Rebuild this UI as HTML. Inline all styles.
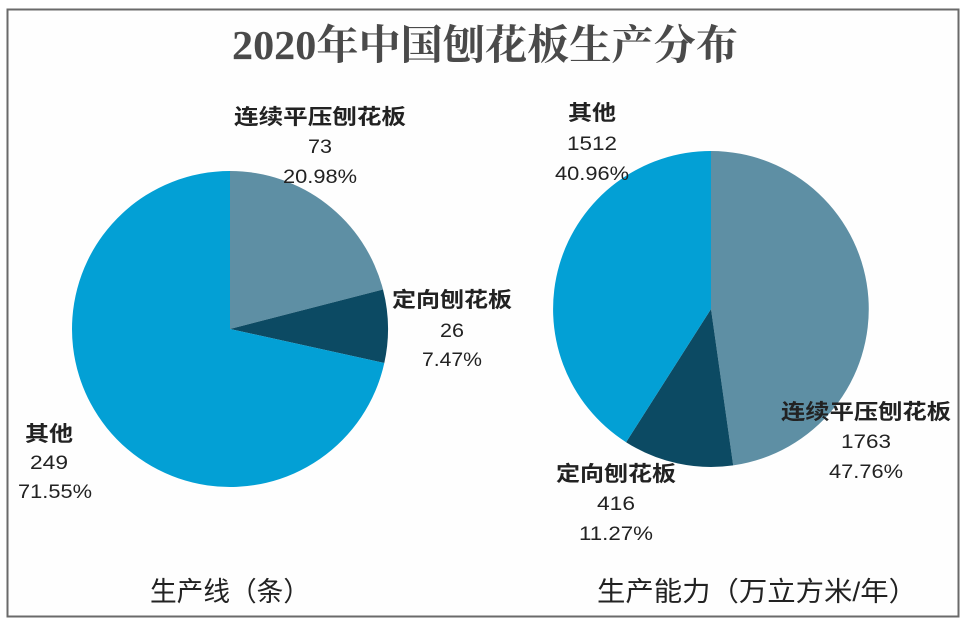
<!DOCTYPE html>
<html><head><meta charset="utf-8"><style>
body{margin:0;background:#fff;}
svg text{font-family:"Liberation Sans","Noto Sans CJK SC",sans-serif;fill:#222;}
</style></head><body>
<svg width="966" height="624" viewBox="0 0 966 624" xmlns="http://www.w3.org/2000/svg">
<rect width="966" height="624" fill="#fff"/>
<rect x="7.5" y="9.5" width="951" height="607" fill="#fefefe" stroke="#6a6a6a" stroke-width="2"/>
<text x="485" y="59" text-anchor="middle" textLength="506" lengthAdjust="spacingAndGlyphs" style="font-family:'Liberation Serif','Noto Serif CJK SC',serif;font-weight:bold;font-size:41px;fill:#4a4a4a">2020年中国刨花板生产分布</text>
<path d="M230,329 L230,171 A158,158 0 0 1 383.0,289.5 Z" fill="#5e8fa4"/>
<path d="M230,329 L383.0,289.5 A158,158 0 0 1 384.3,363.0 Z" fill="#0c4a63"/>
<path d="M230,329 L384.3,363.0 A158,158 0 1 1 230,171 Z" fill="#03a0d5"/>
<path d="M711,309 L711,151 A158,158 0 0 1 733.2,465.4 Z" fill="#5e8fa4"/>
<path d="M711,309 L733.2,465.4 A158,158 0 0 1 626.1,442.2 Z" fill="#0c4a63"/>
<path d="M711,309 L626.1,442.2 A158,158 0 0 1 711,151 Z" fill="#03a0d5"/>
<g font-size="21" text-anchor="middle" lengthAdjust="spacingAndGlyphs">
<text x="320" y="124" font-weight="bold" textLength="172" lengthAdjust="spacingAndGlyphs">连续平压刨花板</text>
<text x="320" y="153" font-size="19" textLength="24" lengthAdjust="spacingAndGlyphs">73</text>
<text x="320" y="183" font-size="19" textLength="74" lengthAdjust="spacingAndGlyphs">20.98%</text>
<text x="452" y="307" font-weight="bold" textLength="120" lengthAdjust="spacingAndGlyphs">定向刨花板</text>
<text x="452" y="337" font-size="19" textLength="24" lengthAdjust="spacingAndGlyphs">26</text>
<text x="452" y="366" font-size="19" textLength="60" lengthAdjust="spacingAndGlyphs">7.47%</text>
<text x="49" y="441" font-weight="bold" textLength="48" lengthAdjust="spacingAndGlyphs">其他</text>
<text x="49" y="469" font-size="19" textLength="38" lengthAdjust="spacingAndGlyphs">249</text>
<text x="55" y="498" font-size="19" textLength="74" lengthAdjust="spacingAndGlyphs">71.55%</text>
<text x="592" y="120" font-weight="bold" textLength="48" lengthAdjust="spacingAndGlyphs">其他</text>
<text x="592" y="150" font-size="19" textLength="50" lengthAdjust="spacingAndGlyphs">1512</text>
<text x="592" y="180" font-size="19" textLength="74" lengthAdjust="spacingAndGlyphs">40.96%</text>
<text x="866" y="419" font-weight="bold" textLength="170" lengthAdjust="spacingAndGlyphs">连续平压刨花板</text>
<text x="866" y="448" font-size="19" textLength="50" lengthAdjust="spacingAndGlyphs">1763</text>
<text x="866" y="478" font-size="19" textLength="74" lengthAdjust="spacingAndGlyphs">47.76%</text>
<text x="616" y="481" font-weight="bold" textLength="120" lengthAdjust="spacingAndGlyphs">定向刨花板</text>
<text x="616" y="510" font-size="19" textLength="38" lengthAdjust="spacingAndGlyphs">416</text>
<text x="616" y="540" font-size="19" textLength="74" lengthAdjust="spacingAndGlyphs">11.27%</text>
</g>
<text x="230" y="601" text-anchor="middle" font-size="27" textLength="160" lengthAdjust="spacingAndGlyphs">生产线（条）</text>
<text x="757" y="601" text-anchor="middle" font-size="27" textLength="320" lengthAdjust="spacingAndGlyphs">生产能力（万立方米/年）</text>
</svg>
</body></html>
